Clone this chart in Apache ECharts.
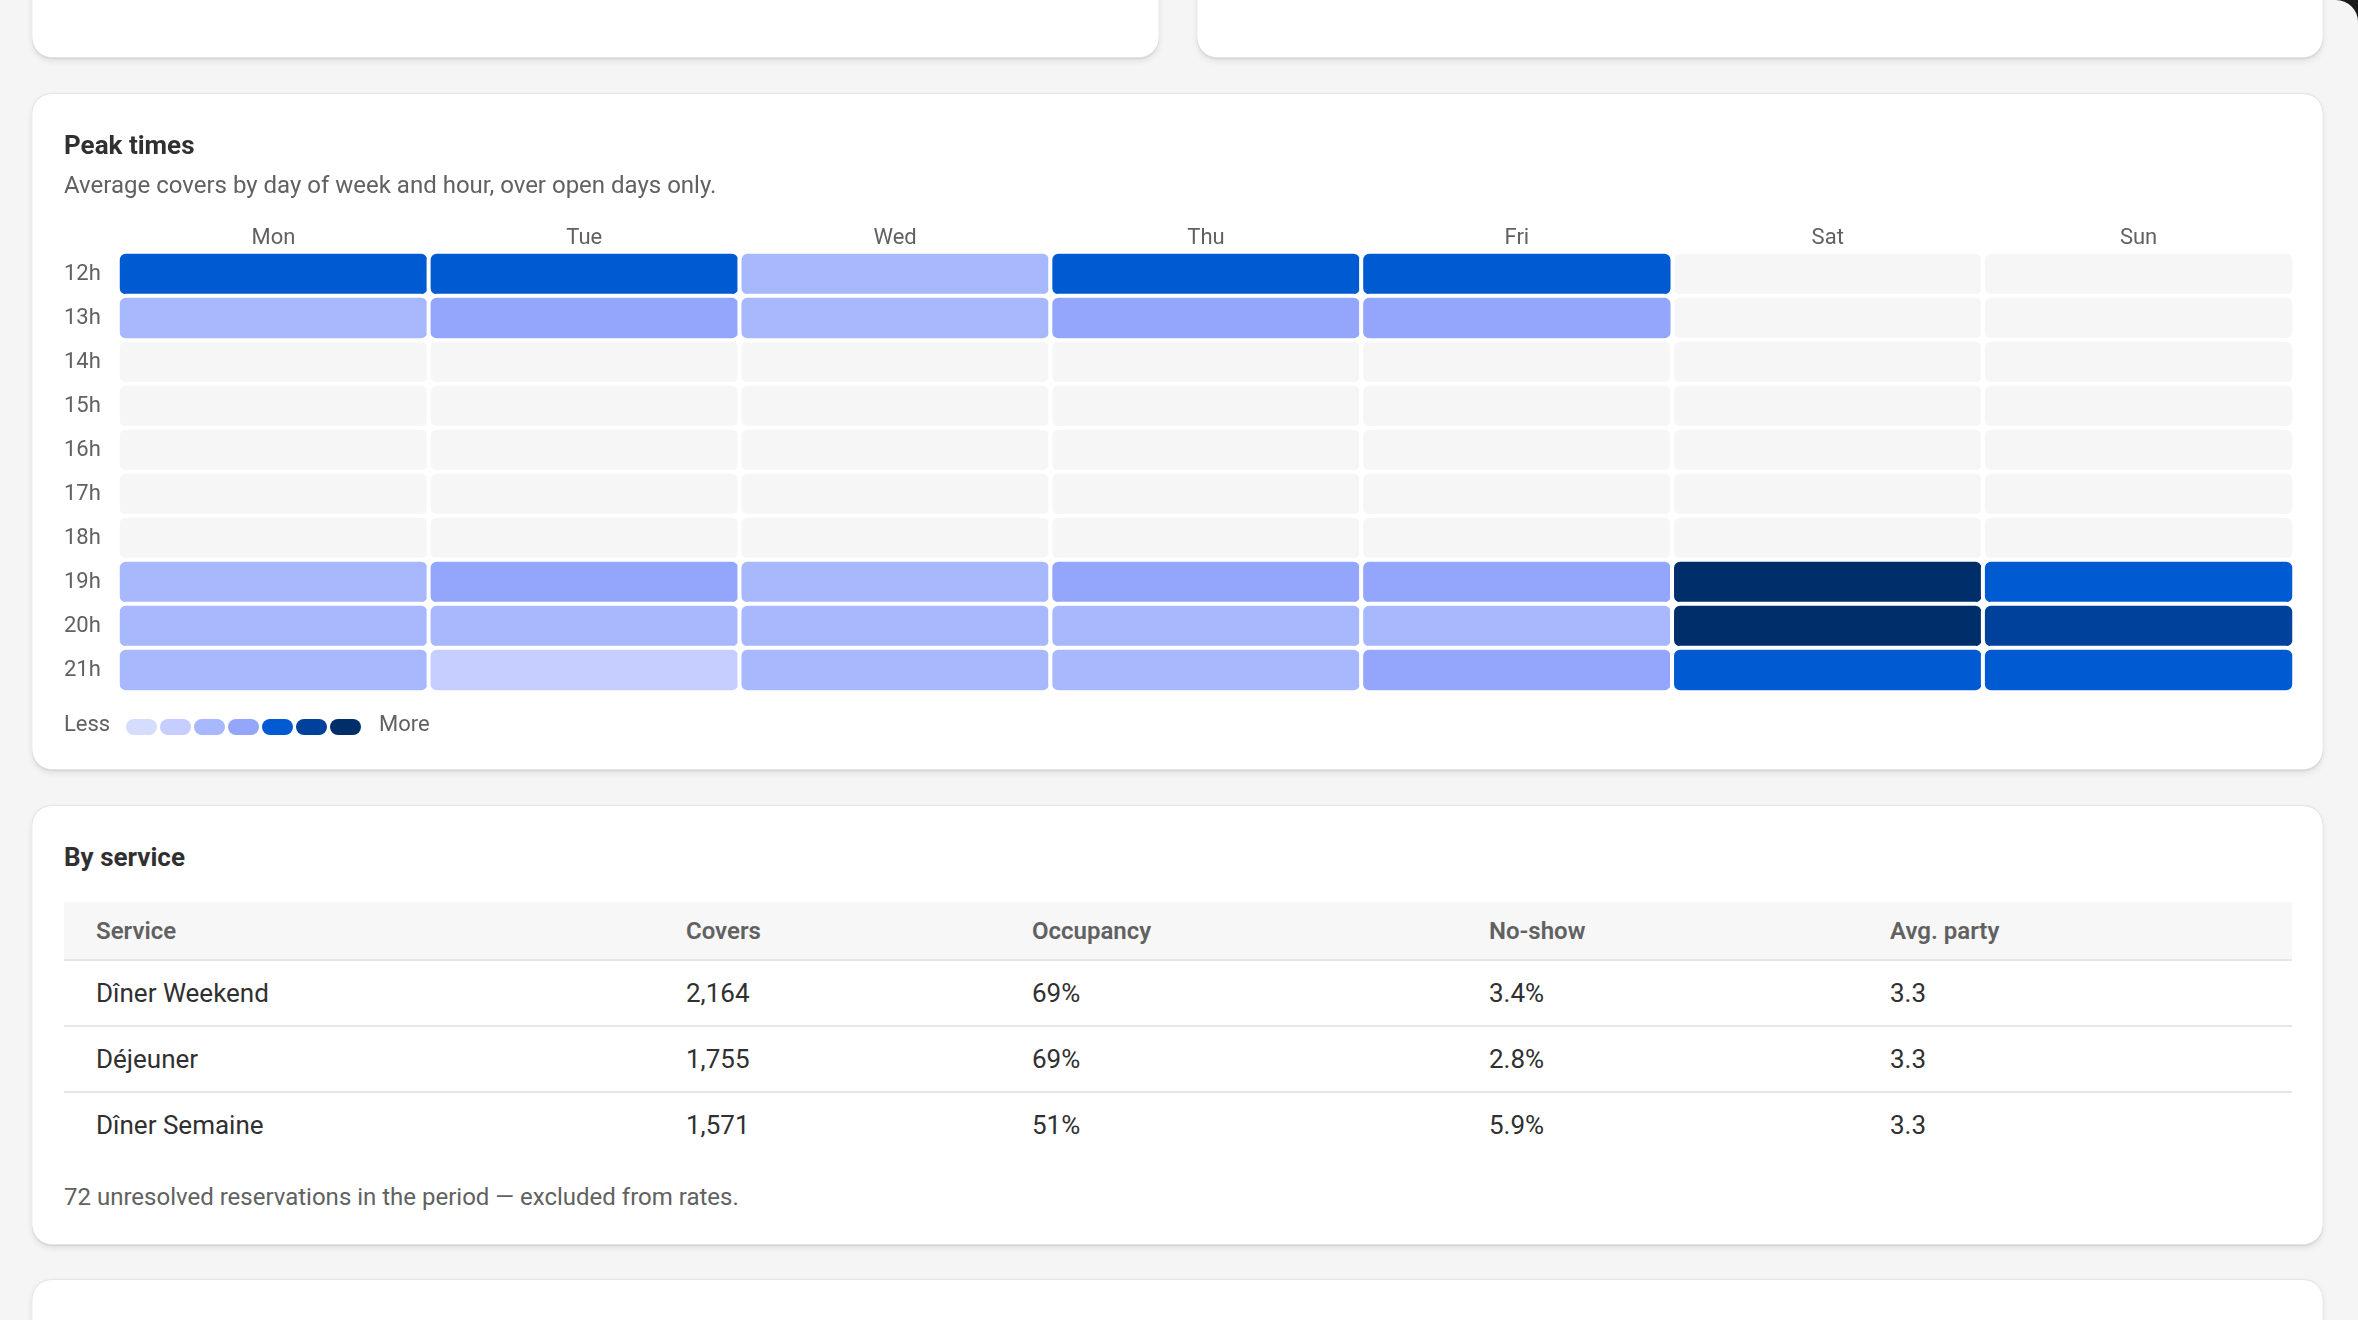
<!DOCTYPE html>
<html>
<head>
<meta charset="utf-8">
<script src="https://cdn.jsdelivr.net/npm/echarts@6/dist/echarts.min.js"></script>
<style>
  html, body { margin: 0; padding: 0; background: #1a1a1a; }
  #page {
    position: relative; width: 2358px; height: 1320px; overflow: hidden;
    background: #f5f5f5; border-top-right-radius: 22px;
    font-family: Roboto, 'Noto Sans', sans-serif;
  }
  .card {
    position: absolute; background: #fff; border-radius: 20px;
    box-shadow: 0 3px 7px -1px rgba(0, 0, 0, 0.12), 0 1px 0 rgba(0, 0, 0, 0.06),
      inset 0 -1px 0 rgba(0, 0, 0, 0.1), inset 0 1px 0 rgba(204, 204, 204, 0.5),
      inset 1px 0 0 rgba(0, 0, 0, 0.04), inset -1px 0 0 rgba(0, 0, 0, 0.04);
  }
  .h { position: absolute; left: 32px; margin: 0; font-size: 26px; line-height: 30px; font-weight: 700; color: #303030; }
  .sub { position: absolute; left: 32px; margin: 0; font-size: 24px; line-height: 30px; color: #616161; }
  #main { position: absolute; left: 0; top: 0; width: 100%; height: 100%; }
  table { position: absolute; left: 32px; top: 97px; width: 2228px; border-collapse: collapse; table-layout: fixed; }
  th { height: 57px; padding: 0 0 0 32px; text-align: left; background: #f7f7f7; color: #616161;
       font-size: 24px; font-weight: 600; border-bottom: 2px solid #e6e6e6; }
  td { height: 64px; padding: 0 0 0 32px; font-size: 26px; color: #303030; border-bottom: 2px solid #e6e6e6; }
  tr:last-child td { border-bottom: none; }
</style>
</head>
<body>
<div id="page">
  <div class="card" style="left:32px; top:-40px; width:1127px; height:98px;"></div>
  <div class="card" style="left:1197px; top:-40px; width:1126px; height:98px;"></div>

  <div class="card" style="left:32px; top:93px; width:2291px; height:677px;">
    <div id="main"></div>
    <h3 class="h" style="top:37px;">Peak times</h3>
    <p class="sub" style="top:77px;">Average covers by day of week and hour, over open days only.</p>
  </div>

  <div class="card" style="left:32px; top:805px; width:2291px; height:440px;">
    <h3 class="h" style="top:37px;">By service</h3>
    <table id="svc"></table>
    <p class="sub" style="top:377px;">72 unresolved reservations in the period — excluded from rates.</p>
  </div>

  <div class="card" style="left:32px; top:1279px; width:2291px; height:200px;"></div>
</div>

<script>
// jours et heures
var days = ['Mon', 'Tue', 'Wed', 'Thu', 'Fri', 'Sat', 'Sun']
var hours = ['12h', '13h', '14h', '15h', '16h', '17h', '18h', '19h', '20h', '21h']
// couverts moyens par heure (null = fermé)
var mon = [36, 20, null, null, null, null, null, 21, 22, 19]
var tue = [35, 26, null, null, null, null, null, 27, 22, 14]
var wed = [18, 21, null, null, null, null, null, 22, 23, 20]
var thu = [37, 25, null, null, null, null, null, 28, 23, 21]
var fri = [38, 27, null, null, null, null, null, 30, 23, 26]
var sat = [null, null, null, null, null, null, null, 52, 54, 38]
var sun = [null, null, null, null, null, null, null, 39, 44, 35]
var levelBreaks = [0, 8, 16, 24, 32, 40, 48, 56]

// tableau par service
var columns = ['Service', 'Covers', 'Occupancy', 'No-show', 'Avg. party']
var services = ['Dîner Weekend', 'Déjeuner', 'Dîner Semaine']
var covers = [2164, 1755, 1571]
var occupancy = [69, 69, 51]
var noShow = [3.4, 2.8, 5.9]
var avgParty = [3.3, 3.3, 3.3]

var levelColors = ['#d5dcfe', '#c5cefe', '#a8b8fd', '#93a6fc', '#005bd3', '#00419c', '#002e6b']
var colWidths = [590, 346, 457, 401, 434]

// table
var html = '<colgroup>' + colWidths.map(function (w) { return '<col style="width:' + w + 'px">' }).join('') + '</colgroup>'
html += '<tr>' + columns.map(function (c) { return '<th>' + c + '</th>' }).join('') + '</tr>'
services.forEach(function (s, i) {
  html += '<tr><td>' + s + '</td><td>' + covers[i].toLocaleString('en-US') + '</td><td>' +
    occupancy[i] + '%</td><td>' + noShow[i].toFixed(1) + '%</td><td>' + avgParty[i].toFixed(1) + '</td></tr>'
})
document.getElementById('svc').innerHTML = html

// heatmap
var byDay = [mon, tue, wed, thu, fri, sat, sun]
var bgData = []
var valueData = []
byDay.forEach(function (arr, d) {
  arr.forEach(function (v, h) {
    bgData.push([d, h, 0])
    if (v !== null) valueData.push([d, h, v])
  })
})
var pieces = []
for (var i = 0; i < levelColors.length; i++) {
  pieces.push({ gte: levelBreaks[i], lt: levelBreaks[i + 1], color: levelColors[i] })
}

var labelStyle = { fill: '#616161', fontSize: 22, fontFamily: 'Roboto', verticalAlign: 'middle' }

var myChart = echarts.init(document.getElementById('main'))
myChart.setOption({
  animation: false,
  textStyle: { fontFamily: 'Roboto' },
  grid: { left: 86, top: 159, width: 2176, height: 440 },
  xAxis: {
    type: 'category',
    position: 'top',
    data: days,
    axisLine: { show: false },
    axisTick: { show: false },
    splitLine: { show: false },
    axisLabel: { color: '#616161', fontSize: 22, margin: 3 }
  },
  yAxis: {
    type: 'category',
    data: hours,
    inverse: true,
    axisLine: { show: false },
    axisTick: { show: false },
    splitLine: { show: false },
    axisLabel: { color: '#616161', fontSize: 22, align: 'left', margin: 54 }
  },
  visualMap: {
    type: 'piecewise',
    seriesIndex: 1,
    pieces: pieces,
    orient: 'horizontal',
    left: 79,
    top: 611,
    itemWidth: 31,
    itemHeight: 16,
    itemGap: 3,
    itemSymbol: 'path://M8,0H23A8,8,0,0,1,23,16H8A8,8,0,0,1,8,0Z',
    showLabel: false,
    selectedMode: false
  },
  graphic: [
    { type: 'text', left: 32, top: 621, style: Object.assign({ text: 'Less' }, labelStyle) },
    { type: 'text', left: 347, top: 621, style: Object.assign({ text: 'More' }, labelStyle) }
  ],
  series: [
    {
      type: 'heatmap',
      data: bgData,
      silent: true,
      itemStyle: { color: '#f6f6f6', borderColor: '#fff', borderWidth: 4, borderRadius: 8 }
    },
    {
      type: 'heatmap',
      data: valueData,
      itemStyle: { borderColor: '#fff', borderWidth: 4, borderRadius: 8 }
    }
  ]
})
</script>
</body>
</html>
